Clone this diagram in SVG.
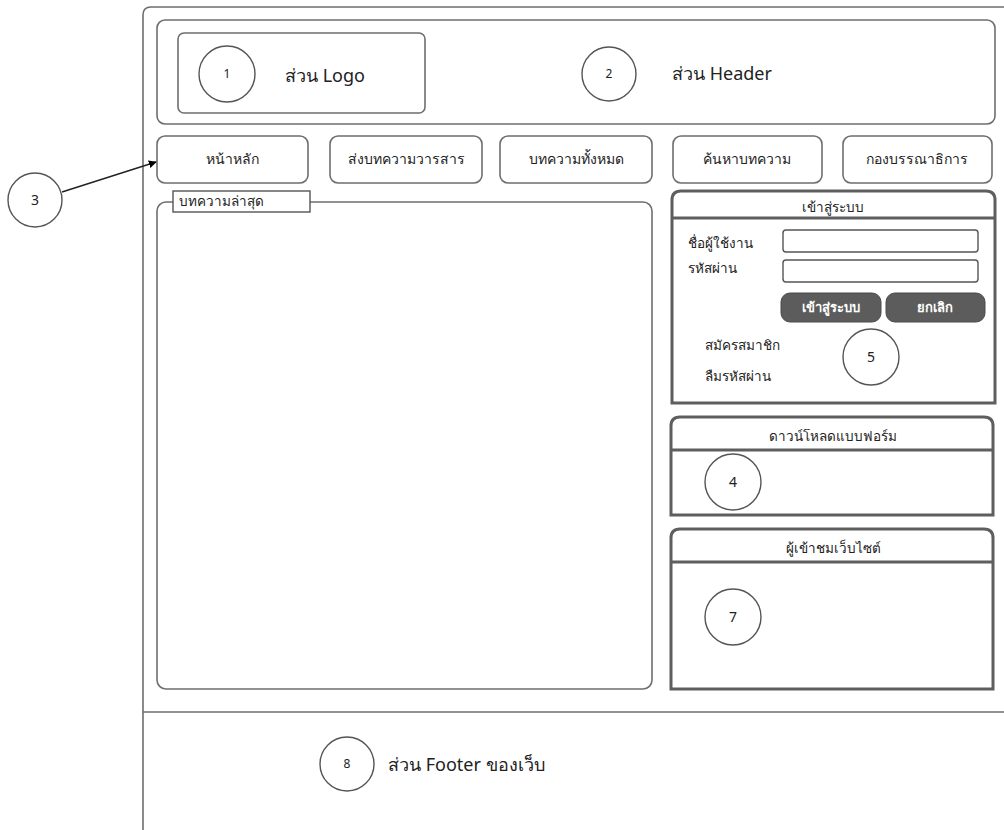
<svg xmlns="http://www.w3.org/2000/svg" width="1004" height="830" viewBox="0 0 1004 830">
<defs>
<style>
text{font-family:"Noto Sans","DejaVu Sans","Liberation Sans",sans-serif;fill:#222}
.box{fill:#fff;stroke:#6e6e6e;stroke-width:1.6}
.panel{fill:#fff;stroke:#5e5e5e;stroke-width:3}
.div{stroke:#5e5e5e;stroke-width:3}
.circ{fill:#fff;stroke:#555;stroke-width:1.4}
.num{font-size:12px;text-anchor:middle}
.num2{font-size:14px;text-anchor:middle}
.big{font-size:18px}
.nav{font-size:14px;text-anchor:middle}
.sm{font-size:13.5px}
.btn{fill:#5c5c5c;stroke:#4a4a4a;stroke-width:1}
.btxt{font-size:13px;font-weight:bold;fill:#fff;text-anchor:middle}
.line{stroke:#6e6e6e;stroke-width:1.6;fill:none}
</style>
<marker id="arr" viewBox="0 0 10 10" refX="9" refY="5" markerWidth="8" markerHeight="8" orient="auto" markerUnits="userSpaceOnUse">
<path d="M0,0 L10,5 L0,10 z" fill="#000"/>
</marker>
</defs>
<rect width="1004" height="830" fill="#fff"/>
<g id="frame">
<path class="line" d="M143,830 L143,15 Q143,7 151,7 L1004,7"/>
<line class="line" x1="143" y1="712" x2="1004" y2="712"/>
</g>
<g id="header">
<rect class="box" x="157" y="20" width="838" height="104" rx="8"/>
<circle class="circ" cx="609" cy="74" r="27"/>
<text class="num" x="609" y="78">2</text>
<text class="big" x="672" y="80">ส่วน Header</text>
</g>
<g id="logo">
<rect class="box" x="178" y="33" width="247" height="80" rx="6"/>
<circle class="circ" cx="227" cy="74" r="28"/>
<text class="num" x="227" y="78">1</text>
<text class="big" x="285" y="82">ส่วน Logo</text>
</g>
<g id="nav1"><rect class="box" x="157" y="136" width="151" height="47" rx="8"/><text class="nav" x="232" y="164">หน้าหลัก</text></g>
<g id="nav2"><rect class="box" x="330" y="136" width="152" height="47" rx="8"/><text class="nav" x="406" y="164">ส่งบทความวารสาร</text></g>
<g id="nav3"><rect class="box" x="500" y="136" width="152" height="47" rx="8"/><text class="nav" x="576" y="164">บทความทั้งหมด</text></g>
<g id="nav4"><rect class="box" x="673" y="136" width="149" height="47" rx="8"/><text class="nav" x="747" y="164">ค้นหาบทความ</text></g>
<g id="nav5"><rect class="box" x="843" y="136" width="149" height="47" rx="8"/><text class="nav" x="917" y="164">กองบรรณาธิการ</text></g>
<g id="callout3">
<circle class="circ" cx="35" cy="200" r="27"/>
<text class="num2" x="35" y="205">3</text>
</g>
<g id="connectors">
<line x1="62" y1="192" x2="156" y2="162" stroke="#222" stroke-width="1.4" marker-end="url(#arr)"/>
</g>
<g id="articles">
<rect class="box" x="157" y="202" width="495" height="487" rx="9"/>
<rect x="173" y="191" width="137" height="21" fill="#fff" stroke="#555" stroke-width="1.4"/>
<text class="sm" x="179" y="206">บทความล่าสุด</text>
</g>
<g id="login">
<path class="panel" d="M672,403 L672,200 Q672,191 681,191 L986,191 Q995,191 995,200 L995,403 Z"/>
<line class="div" x1="672" y1="218" x2="995" y2="218"/>
<text class="sm" x="833" y="212" text-anchor="middle">เข้าสู่ระบบ</text>
<text class="sm" x="688" y="248">ชื่อผู้ใช้งาน</text>
<text class="sm" x="688" y="273">รหัสผ่าน</text>
<rect x="783" y="230" width="195" height="22" rx="3" fill="#fff" stroke="#555" stroke-width="1.4"/>
<rect x="783" y="260" width="195" height="22" rx="3" fill="#fff" stroke="#555" stroke-width="1.4"/>
<rect class="btn" x="781" y="293" width="100" height="29" rx="9"/>
<text class="btxt" x="831" y="312">เข้าสู่ระบบ</text>
<rect class="btn" x="886" y="293" width="99" height="29" rx="9"/>
<text class="btxt" x="935" y="312">ยกเลิก</text>
<text class="sm" x="705" y="350">สมัครสมาชิก</text>
<text class="sm" x="705" y="381">ลืมรหัสผ่าน</text>
<circle class="circ" cx="871" cy="357" r="28"/>
<text class="num2" x="871" y="362">5</text>
</g>
<g id="download">
<path class="panel" d="M671,515 L671,426 Q671,417 680,417 L984,417 Q993,417 993,426 L993,515 Z"/>
<line class="div" x1="671" y1="450" x2="993" y2="450"/>
<text class="sm" x="833" y="441" text-anchor="middle">ดาวน์โหลดแบบฟอร์ม</text>
<circle class="circ" cx="733" cy="482" r="28"/>
<text class="num2" x="733" y="487">4</text>
</g>
<g id="visitors">
<path class="panel" d="M671,689 L671,538 Q671,529 680,529 L984,529 Q993,529 993,538 L993,689 Z"/>
<line class="div" x1="671" y1="562" x2="993" y2="562"/>
<text class="sm" x="833" y="553" text-anchor="middle">ผู้เข้าชมเว็บไซต์</text>
<circle class="circ" cx="733" cy="617" r="28"/>
<text class="num2" x="733" y="622">7</text>
</g>
<g id="footer">
<circle class="circ" cx="347" cy="764" r="27"/>
<text class="num" x="347" y="768">8</text>
<text class="big" x="388" y="771">ส่วน Footer ของเว็บ</text>
</g>
</svg>
